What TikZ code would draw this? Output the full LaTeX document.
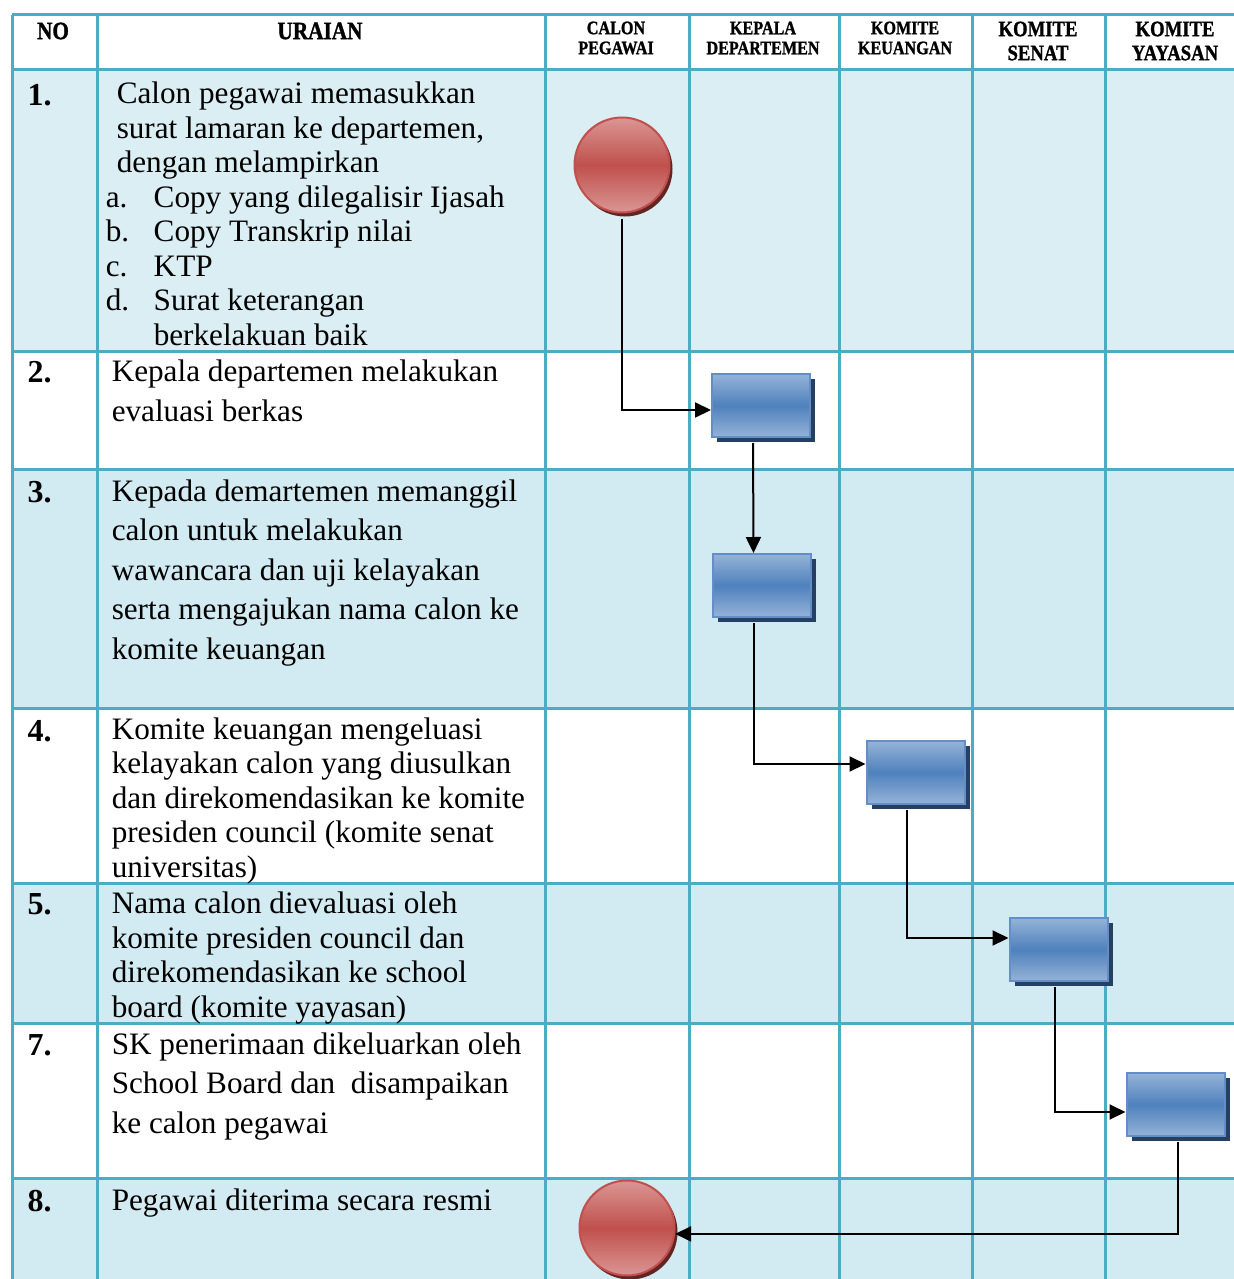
\documentclass[tikz,border=0pt]{standalone}
\usepackage{fontspec}
\setmainfont{Liberation Serif}
\newfontfamily\headfont[FakeStretch=0.85, BoldFeatures={FakeBold=1.2}]{Liberation Serif}
\usetikzlibrary{arrows.meta,shadows}

\definecolor{gridline}{RGB}{75,172,198}
\definecolor{rowa}{RGB}{219,238,243}
\definecolor{rowb}{RGB}{210,234,241}
\definecolor{boxmid}{RGB}{79,129,189}
\definecolor{boxlight}{RGB}{149,179,215}
\definecolor{boxedge}{RGB}{100,142,200}
\definecolor{boxshade}{RGB}{38,64,98}
\definecolor{redmid}{RGB}{192,80,77}
\definecolor{redlight}{RGB}{218,150,148}
\definecolor{redshade}{RGB}{99,37,35}

\tikzset{every picture/.style={line width=0.75pt}}
\tikzset{
  procbox/.style={rectangle, draw=boxedge, line width=1pt, top color=boxlight, bottom color=boxlight, middle color=boxmid,
    minimum width=49pt, minimum height=31.5pt, inner sep=0pt,
    drop shadow={shadow xshift=2.5pt, shadow yshift=-2.5pt, fill=boxshade, opacity=1}},
  termcircle/.style={circle, draw=redmid, line width=1pt, top color=redlight, bottom color=redlight, middle color=redmid,
    minimum size=47.5pt, inner sep=0pt,
    drop shadow={shadow xshift=1.5pt, shadow yshift=-2pt, fill=redshade, opacity=1}},
  flow/.style={line width=1pt, -{Triangle[length=8pt,width=7.5pt]}, shorten <=2.5pt},
  rowtext/.style={anchor=base west, inner sep=0pt, align=left, font=\fontsize{15.6}{17.25}\selectfont},
  widetext/.style={rowtext, font=\fontsize{15.6}{19.7}\selectfont},
  numtext/.style={anchor=base west, inner sep=0pt, font=\bfseries\fontsize{16}{16}\selectfont},
  headbig/.style={align=center, inner sep=0pt, font=\headfont\bfseries\fontsize{12.5}{12}\selectfont},
  headsmall/.style={align=center, inner sep=0pt, font=\headfont\bfseries\fontsize{9.5}{10}\selectfont},
  headmid/.style={align=center, inner sep=0pt, font=\headfont\bfseries\fontsize{11}{12}\selectfont}
}

\begin{document}
\begin{tikzpicture}[x=0.5pt,y=-0.5pt]
\useasboundingbox (0,0) rectangle (1234,1279);

% Row shading
\fill[rowa] (12,70) rectangle (1234,351);
\fill[rowb] (12,469) rectangle (1234,708);
\fill[rowb] (12,883) rectangle (1234,1023);
\fill[rowb] (12,1178) rectangle (1234,1279);

% Grid
\foreach \y in {15,70,351,469,708,883,1023,1178}
  \draw[gridline, line width=1.5pt] (12,\y) -- (1234,\y);
\foreach \x in {12,97,545,689,839,972,1105}
  \draw[gridline, line width=1.5pt] (\x,15) -- (\x,1279);

% Header
\node[headbig] (hno) at (53,31) {NO};
\node[headbig] (hura) at (320,31) {URAIAN};
\node[headsmall] (hcal) at (616,38) {CALON\\PEGAWAI};
\node[headsmall] (hkep) at (763,38) {KEPALA\\DEPARTEMEN};
\node[headsmall] (hkeu) at (905,38) {KOMITE\\KEUANGAN};
\node[headmid] (hsen) at (1038,41) {KOMITE\\SENAT};
\node[headmid] (hyay) at (1175,41) {KOMITE\\YAYASAN};

% Numbers
\node[numtext] (n1) at (27,105) {1.};
\node[numtext] (n2) at (27,382) {2.};
\node[numtext] (n3) at (27,502) {3.};
\node[numtext] (n4) at (27,741) {4.};
\node[numtext] (n5) at (27,914) {5.};
\node[numtext] (n7) at (27,1055) {7.};
\node[numtext] (n8) at (27,1211) {8.};

% Text Node (placed by the baseline of the last line)
\node[rowtext] (t1) at (105,345) {\hspace*{5.5pt}Calon pegawai memasukkan\\
  \hspace*{5.5pt}surat lamaran ke departemen,\\
  \hspace*{5.5pt}dengan melampirkan\\
  \makebox[24pt][l]{a.}Copy yang dilegalisir Ijasah\\
  \makebox[24pt][l]{b.}Copy Transkrip nilai\\
  \makebox[24pt][l]{c.}KTP\\
  \makebox[24pt][l]{d.}Surat keterangan\\
  \hspace*{24pt}berkelakuan baik};
\node[widetext] (t2) at (111,421) {Kepala departemen melakukan\\evaluasi berkas};
\node[widetext] (t3) at (111,659) {Kepada demartemen memanggil\\calon untuk melakukan\\wawancara dan uji kelayakan\\serta mengajukan nama calon ke\\komite keuangan};
\node[rowtext] (t4) at (111,877) {Komite keuangan mengeluasi\\kelayakan calon yang diusulkan\\dan direkomendasikan ke komite\\presiden council (komite senat\\universitas)};
\node[rowtext] (t5) at (111,1017) {Nama calon dievaluasi oleh\\komite presiden council dan\\direkomendasikan ke school\\board (komite yayasan)};
\node[widetext] (t7) at (111,1133) {SK penerimaan dikeluarkan oleh\\School Board dan\ \ disampaikan\\ke calon pegawai};
\node[rowtext] (t8) at (111,1210) {Pegawai diterima secara resmi};

% Flow shapes
\node[termcircle] (c1) at (622,165) {};
\node[procbox] (b2) at (761,405.5) {};
\node[procbox] (b3) at (761.5,585.5) {};
\node[procbox] (b4) at (915.5,772.5) {};
\node[procbox] (b5) at (1058.5,949.5) {};
\node[procbox] (b7) at (1175.5,1104.5) {};
\node[termcircle] (c2) at (627,1228) {};

% Connection
\draw[flow] (c1.south) |- ([yshift=-2.25pt]b2.west);
\draw[flow] ([xshift=-4pt]b2.south) -- ([xshift=-4pt]b3.north);
\draw[flow] ([xshift=-4pt]b3.south) |- ([yshift=4.25pt]b4.west);
\draw[flow] ([xshift=-4.5pt]b4.south) |- ([yshift=5.75pt]b5.west);
\draw[flow] ([xshift=-2pt]b5.south) |- ([yshift=-3.75pt]b7.west);
\draw[flow] ([xshift=1pt]b7.south) |- (c2.-7);

\end{tikzpicture}
\end{document}
